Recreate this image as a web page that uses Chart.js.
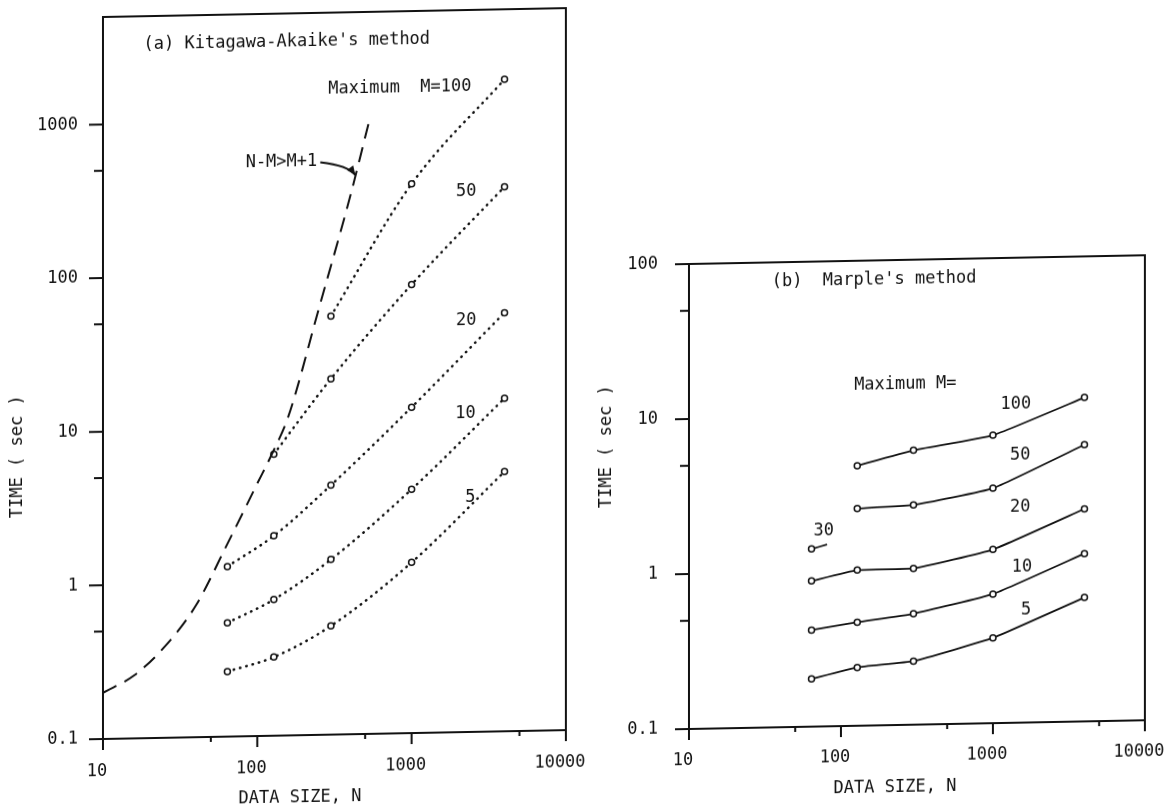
<!DOCTYPE html>
<html>
<head>
<meta charset="utf-8">
<script src="https://cdn.jsdelivr.net/npm/chart.js@4.4.1/dist/chart.umd.min.js"></script>
<style>
  body { margin: 0; background: #fff; width: 1165px; height: 812px; overflow: hidden; position: relative; }
  .panel { position: absolute; top: 0; transform: skewY(-1.1deg); }
  #panelA { left: 0; width: 600px; height: 812px; transform-origin: 103px 0; }
  #panelB { left: 585px; width: 580px; height: 812px; transform-origin: 104px 0; }
</style>
</head>
<body>
<div class="panel" id="panelA"><canvas id="chartA" width="600" height="812"></canvas></div>
<div class="panel" id="panelB"><canvas id="chartB" width="580" height="812"></canvas></div>
<script>
// data size N used in both experiments
var sizes = [64, 128, 300, 1000, 4000];

// (a) Kitagawa-Akaike's method, time (sec) per maximum order M
var kaM100 = [null, null, 53, 375, 1750];
var kaM50 = [null, 6.8, 20.7, 83, 350];
var kaM20 = [1.28, 2.0, 4.2, 13.2, 53];
var kaM10 = [0.55, 0.77, 1.38, 3.86, 14.7];
var kaM5 = [0.265, 0.325, 0.51, 1.29, 4.9];

// limit N-M > M+1 (dashed curve)
var limitN = [10, 16, 25, 40, 63, 100, 126, 158, 250, 400, 525];
var limitT = [0.2, 0.258, 0.39, 0.72, 1.74, 4.4, 7.0, 11.7, 59, 317, 930];

// (b) Marple's method
var mpM100 = [null, 4.76, 5.9, 7.2, 12.3];
var mpM50 = [null, 2.52, 2.62, 3.28, 6.1];
var mpM20 = [0.87, 1.01, 1.02, 1.32, 2.35];
var mpM10 = [0.42, 0.466, 0.52, 0.68, 1.21];
var mpM5 = [0.203, 0.238, 0.257, 0.355, 0.63];
var mpM30N = [64, 81];
var mpM30T = [1.40, 1.49];

// axes
var xTicks = [10, 100, 1000, 10000];
var xMinor = [50, 500, 5000];
var yTicksA = [0.1, 1, 10, 100, 1000];
var yMinorA = [0.5, 5, 50, 500];
var yTicksB = [0.1, 1, 10, 100];
var yMinorB = [0.5, 5, 50];

// text placed at data coordinates
var notesA = [
  { text: "(a) Kitagawa-Akaike's method", n: 18.3, t: 3270, align: 'left' },
  { text: 'Maximum  M=100', n: 288, t: 1580, align: 'left' },
  { text: 'N-M>M+1', n: 84, t: 536, align: 'left' },
  { text: '50', n: 2260, t: 331, align: 'center' },
  { text: '20', n: 2260, t: 47.4, align: 'center' },
  { text: '10', n: 2230, t: 11.8, align: 'center' },
  { text: '5', n: 2400, t: 3.36, align: 'center' }
];
var arrowA = { from: [256, 533], via: [389, 505], to: [432, 435] };

var notesB = [
  { text: "(b)  Marple's method", n: 35, t: 74.6, align: 'left' },
  { text: 'Maximum M=', n: 122, t: 15.6, align: 'left' },
  { text: '100', n: 1415, t: 11.3, align: 'center' },
  { text: '50', n: 1510, t: 5.3, align: 'center' },
  { text: '20', n: 1510, t: 2.45, align: 'center' },
  { text: '30', n: 77, t: 1.82, align: 'center' },
  { text: '10', n: 1550, t: 1.0, align: 'center' },
  { text: '5', n: 1650, t: 0.53, align: 'center' }
];

var FONT = '"DejaVu Sans Mono", "Liberation Mono", monospace';
var INK = '#111';

function pairs(xs, ys) {
  var out = [];
  xs.forEach(function (x, i) {
    if (ys[i] != null) out.push({ x: x, y: ys[i] });
  });
  return out;
}

// box, tick marks, notes and axis titles
var frame = {
  id: 'frame',
  afterDraw: function (chart, args, o) {
    var ctx = chart.ctx, a = chart.chartArea;
    var sx = chart.scales.x, sy = chart.scales.y;
    ctx.save();
    ctx.strokeStyle = INK;
    ctx.lineWidth = 2;
    ctx.strokeRect(a.left, a.top, a.right - a.left, a.bottom - a.top);

    ctx.beginPath();
    xTicks.forEach(function (v) {
      var p = sx.getPixelForValue(v);
      ctx.moveTo(p, a.bottom); ctx.lineTo(p, a.bottom + 11);
    });
    xMinor.forEach(function (v) {
      var p = sx.getPixelForValue(v);
      ctx.moveTo(p, a.bottom); ctx.lineTo(p, a.bottom + 5);
    });
    o.yMajor.forEach(function (v) {
      var p = sy.getPixelForValue(v);
      ctx.moveTo(a.left, p); ctx.lineTo(a.left - 14, p);
    });
    o.yMinor.forEach(function (v) {
      var p = sy.getPixelForValue(v);
      ctx.moveTo(a.left, p); ctx.lineTo(a.left - 9, p);
    });
    ctx.stroke();

    ctx.fillStyle = INK;
    ctx.font = '17px ' + FONT;
    ctx.textBaseline = 'middle';
    o.notes.forEach(function (nt) {
      ctx.textAlign = nt.align;
      ctx.fillText(nt.text, sx.getPixelForValue(nt.n), sy.getPixelForValue(nt.t));
    });

    if (o.arrow) {
      var f = o.arrow.from, c = o.arrow.via, t = o.arrow.to;
      var fx = sx.getPixelForValue(f[0]), fy = sy.getPixelForValue(f[1]);
      var cx = sx.getPixelForValue(c[0]), cy = sy.getPixelForValue(c[1]);
      var tx = sx.getPixelForValue(t[0]), ty = sy.getPixelForValue(t[1]);
      ctx.lineWidth = 2;
      ctx.beginPath();
      ctx.moveTo(fx, fy);
      ctx.quadraticCurveTo(cx, cy, tx, ty);
      ctx.stroke();
      var ang = Math.atan2(ty - cy, tx - cx);
      ctx.beginPath();
      ctx.moveTo(tx, ty);
      ctx.lineTo(tx - 10 * Math.cos(ang - 0.4), ty - 10 * Math.sin(ang - 0.4));
      ctx.lineTo(tx - 10 * Math.cos(ang + 0.4), ty - 10 * Math.sin(ang + 0.4));
      ctx.closePath();
      ctx.fill();
    }

    ctx.textAlign = 'center';
    ctx.fillText('DATA SIZE, N', o.xTitle[0], o.xTitle[1]);
    ctx.translate(o.yTitle[0], o.yTitle[1]);
    ctx.rotate(-Math.PI / 2);
    ctx.fillText('TIME ( sec )', 0, 0);
    ctx.restore();
  }
};

function logAxis(min, max, ticks, pad, size, horizontal) {
  return {
    type: 'logarithmic',
    min: min,
    max: max,
    grid: { display: false, drawTicks: false },
    border: { display: false },
    ticks: {
      color: INK,
      font: { family: FONT, size: 17 },
      padding: pad,
      labelOffset: horizontal ? -6 : 0,
      autoSkip: false,
      maxRotation: 0,
      callback: function (v) { return String(v); }
    },
    afterBuildTicks: function (s) {
      s.ticks = ticks.map(function (v) { return { value: v }; });
    },
    afterFit: function (s) {
      if (horizontal) { s.height = size; s.paddingLeft = 0; s.paddingRight = 0; }
      else { s.width = size; s.paddingTop = 0; s.paddingBottom = 0; }
    }
  };
}

function dotted(vals) {
  return {
    data: pairs(sizes, vals),
    borderColor: INK,
    borderWidth: 2.5,
    borderDash: [0.5, 6],
    borderCapStyle: 'round',
    cubicInterpolationMode: 'monotone',
    pointRadius: 3,
    pointBorderWidth: 1.5,
    pointBackgroundColor: '#fff',
    pointBorderColor: INK
  };
}

function solid(xs, vals) {
  return {
    data: pairs(xs, vals),
    borderColor: INK,
    borderWidth: 1.8,
    tension: 0.12,
    pointRadius: function (c) { return xs === sizes || c.dataIndex === 0 ? 3 : 0; },
    pointBorderWidth: 1.5,
    pointBackgroundColor: '#fff',
    pointBorderColor: INK
  };
}

new Chart(document.getElementById('chartA'), {
  type: 'line',
  data: {
    datasets: [
      {
        data: pairs(limitN, limitT),
        borderColor: INK,
        borderWidth: 2,
        borderDash: [15, 9],
        cubicInterpolationMode: 'monotone',
        pointRadius: 0
      },
      dotted(kaM100),
      dotted(kaM50),
      dotted(kaM20),
      dotted(kaM10),
      dotted(kaM5)
    ]
  },
  options: {
    responsive: false,
    animation: false,
    devicePixelRatio: 1,
    layout: { padding: { top: 17, right: 34, left: 0, bottom: 0 } },
    scales: {
      x: logAxis(10, 10000, xTicks, 22, 73, true),
      y: logAxis(0.1, 5000, yTicksA, 25, 103, false)
    },
    plugins: {
      legend: { display: false },
      tooltip: { enabled: false },
      frame: {
        yMajor: yTicksA, yMinor: yMinorA, notes: notesA, arrow: arrowA,
        xTitle: [300, 802], yTitle: [18, 455]
      }
    }
  },
  plugins: [frame]
});

new Chart(document.getElementById('chartB'), {
  type: 'line',
  data: {
    datasets: [
      solid(sizes, mpM100),
      solid(sizes, mpM50),
      solid(mpM30N, mpM30T),
      solid(sizes, mpM20),
      solid(sizes, mpM10),
      solid(sizes, mpM5)
    ]
  },
  options: {
    responsive: false,
    animation: false,
    devicePixelRatio: 1,
    layout: { padding: { top: 264, right: 20, left: 0, bottom: 0 } },
    scales: {
      x: logAxis(10, 10000, xTicks, 21, 83, true),
      y: logAxis(0.1, 100, yTicksB, 31, 104, false)
    },
    plugins: {
      legend: { display: false },
      tooltip: { enabled: false },
      frame: {
        yMajor: yTicksB, yMinor: yMinorB, notes: notesB, arrow: null,
        xTitle: [310, 792], yTitle: [22, 445]
      }
    }
  },
  plugins: [frame]
});
</script>
</body>
</html>
